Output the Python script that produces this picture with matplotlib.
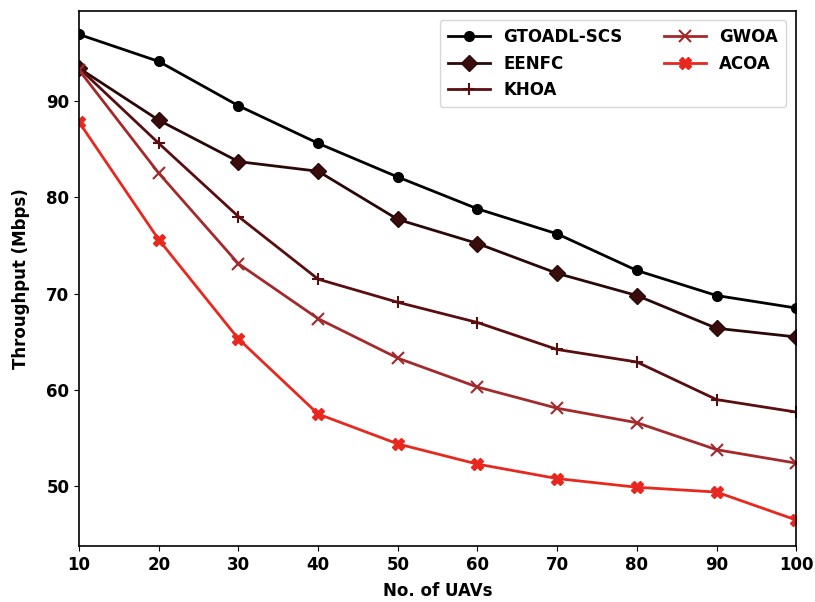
import matplotlib
matplotlib.use("Agg")
import matplotlib.pyplot as plt

x = [10, 20, 30, 40, 50, 60, 70, 80, 90, 100]
gtoadl = [96.9, 94.1, 89.5, 85.6, 82.1, 78.8, 76.2, 72.4, 69.8, 68.5]
eenfc = [93.4, 88.0, 83.7, 82.7, 77.7, 75.2, 72.1, 69.8, 66.4, 65.5]
khoa = [93.4, 85.6, 78.0, 71.5, 69.1, 67.0, 64.2, 62.9, 59.0, 57.7]
gwoa = [93.2, 82.5, 73.1, 67.4, 63.3, 60.3, 58.1, 56.6, 53.8, 52.4]
acoa = [87.8, 75.6, 65.3, 57.5, 54.4, 52.3, 50.8, 49.9, 49.4, 46.5]

plt.rcParams['font.family'] = ['DejaVu Sans']
plt.rcParams['font.weight'] = 'bold'

fig = plt.figure(figsize=(8.15, 6.02), dpi=100)
ax = fig.add_axes([0.097, 0.093, 0.880, 0.889])

ax.plot(x, gtoadl, color='#000000', marker='o', markersize=7, lw=2, label='GTOADL-SCS')
ax.plot(x, eenfc, color='#2a0808', marker='D', markersize=8, markerfacecolor='#3a0c0c', lw=2, label='EENFC')
ax.plot(x, khoa, color='#5a0e10', marker='+', markersize=9, mew=1.5, lw=2, label='KHOA')
ax.plot(x, gwoa, color='#a3292b', marker='x', markersize=8, mew=1.5, lw=2, label='GWOA')
ax.plot(x, acoa, color='#e8281e', marker='X', markersize=8, lw=2, label='ACOA')

ax.set_xlim(10, 100)
ax.set_ylim(43.8, 99.35)
ax.set_xticks(x)
ax.set_yticks([50, 60, 70, 80, 90])
ax.tick_params(labelsize=12)
for lab in ax.get_xticklabels() + ax.get_yticklabels():
    lab.set_fontweight('bold')
ax.set_xlabel('No. of UAVs', fontsize=12, fontweight='bold', labelpad=6)
ax.set_ylabel('Throughput (Mbps)', fontsize=12, fontweight='bold', labelpad=12)
for s in ax.spines.values():
    s.set_linewidth(1.2)

ax.legend(loc='upper right', ncol=2, prop={'weight': 'bold', 'size': 12},
          handlelength=2.5, columnspacing=2.5, borderpad=0.5, borderaxespad=0,
          bbox_to_anchor=(0.986, 0.983))

fig.savefig('out.png', dpi=100)
